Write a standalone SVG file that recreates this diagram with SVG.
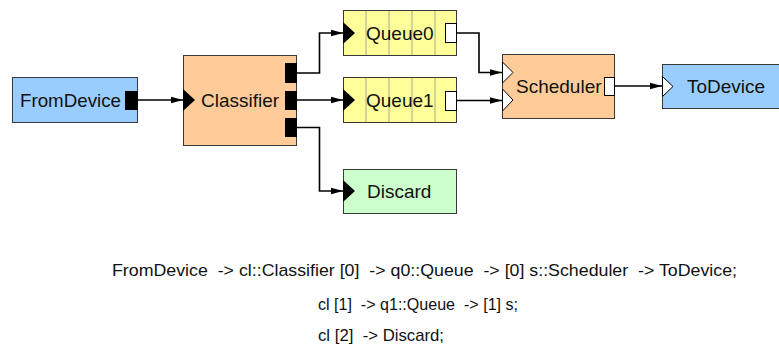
<svg xmlns="http://www.w3.org/2000/svg" width="779" height="349" viewBox="0 0 779 349">
  <defs>
    <marker id="arrow" markerUnits="userSpaceOnUse" markerWidth="13" markerHeight="8" refX="12.5" refY="4" orient="auto">
      <path d="M0,0.5 L12.5,4 L0,7.5 z" fill="#000"/>
    </marker>
    <style>
      .box { stroke: #3a3a3a; stroke-width: 1; }
      .dev { fill: #99ccff; }
      .elem { fill: #ffcc99; }
      .queue { fill: #ffff99; }
      .drop { fill: #ccffcc; }
      .cell { stroke: #a8a88c; stroke-width: 1; }
      .pout { fill: #000; }
      .pout-push { fill: #fff; stroke: #000; stroke-width: 1; }
      .pin { fill: #000; }
      .pin-pull { fill: #fff; stroke: #000; stroke-width: 1; }
      .label { font-family: "Liberation Sans", Arial, sans-serif; font-size: 19px; fill: #111; }
      .code { font-family: "Liberation Sans", Arial, sans-serif; font-size: 17px; fill: #111; }
      .wire { fill: none; stroke: #000; stroke-width: 1.6; marker-end: url(#arrow); }
    </style>
  </defs>

  <!-- connectors -->
  <g id="connectors">
    <path class="wire" d="M138,100 H183"/>
    <path class="wire" d="M297,73 H319.5 V33 H343"/>
    <path class="wire" d="M297,100 H343"/>
    <path class="wire" d="M297,127.5 H319.5 V191 H343"/>
    <path class="wire" d="M457,33 H479 V72.5 H502"/>
    <path class="wire" d="M457,100.5 H502"/>
    <path class="wire" d="M615,86 H662"/>
  </g>

  <!-- FromDevice -->
  <g id="fromdevice">
    <rect class="box dev" x="12.5" y="77.5" width="125" height="45"/>
    <text class="label" x="20" y="106.5" textLength="101" lengthAdjust="spacingAndGlyphs">FromDevice</text>
    <rect class="pout" x="125" y="91" width="13" height="19"/>
  </g>

  <!-- Classifier -->
  <g id="classifier">
    <rect class="box elem" x="183.5" y="55.5" width="113" height="90"/>
    <polygon class="pin" points="183,89 195,100 183,111"/>
    <text class="label" x="201" y="106.5">Classifier</text>
    <rect class="pout" x="285" y="63" width="12" height="20"/>
    <rect class="pout" x="285" y="91" width="12" height="19"/>
    <rect class="pout" x="285" y="118" width="12" height="19"/>
  </g>

  <!-- Queue0 -->
  <g id="queue0">
    <rect class="box queue" x="343.5" y="10.5" width="113" height="45"/>
    <path class="cell" d="M366,11 V55 M389,11 V55 M412,11 V55 M435,11 V55"/>
    <polygon class="pin" points="343,22 355,33 343,44"/>
    <text class="label" x="366" y="40">Queue0</text>
    <rect class="pout-push" x="445.5" y="23.5" width="11" height="19"/>
  </g>

  <!-- Queue1 -->
  <g id="queue1">
    <rect class="box queue" x="343.5" y="77.5" width="113" height="45"/>
    <path class="cell" d="M366,78 V122 M389,78 V122 M412,78 V122 M435,78 V122"/>
    <polygon class="pin" points="343,89 355,100 343,111"/>
    <text class="label" x="366" y="107">Queue1</text>
    <rect class="pout-push" x="445.5" y="91.5" width="11" height="19"/>
  </g>

  <!-- Scheduler -->
  <g id="scheduler">
    <rect class="box elem" x="502.5" y="54.5" width="112" height="64"/>
    <polygon class="pin-pull" points="502.5,62 513,72.5 502.5,83"/>
    <polygon class="pin-pull" points="502.5,89 513,100 502.5,111"/>
    <text class="label" x="516" y="93">Scheduler</text>
    <rect class="pout-push" x="604.5" y="77.5" width="10" height="18"/>
  </g>

  <!-- ToDevice -->
  <g id="todevice">
    <rect class="box dev" x="662.5" y="64.5" width="130" height="44"/>
    <polygon class="pin-pull" points="662.5,76.5 673,86.5 662.5,96.5"/>
    <text class="label" x="687" y="93">ToDevice</text>
  </g>

  <!-- Discard -->
  <g id="discard">
    <rect class="box drop" x="343.5" y="169.5" width="113" height="44"/>
    <polygon class="pin" points="343,180 355,191 343,202"/>
    <text class="label" x="367" y="198">Discard</text>
  </g>

  <!-- configuration text -->
  <g id="config">
    <text class="code" x="112" y="276" xml:space="preserve" textLength="625" lengthAdjust="spacingAndGlyphs">FromDevice  -&gt; cl::Classifier [0]  -&gt; q0::Queue  -&gt; [0] s::Scheduler  -&gt; ToDevice;</text>
    <text class="code" x="318" y="310" xml:space="preserve" textLength="200" lengthAdjust="spacingAndGlyphs">cl [1]  -&gt; q1::Queue  -&gt; [1] s;</text>
    <text class="code" x="318" y="341" xml:space="preserve" textLength="126" lengthAdjust="spacingAndGlyphs">cl [2]  -&gt; Discard;</text>
  </g>
</svg>
